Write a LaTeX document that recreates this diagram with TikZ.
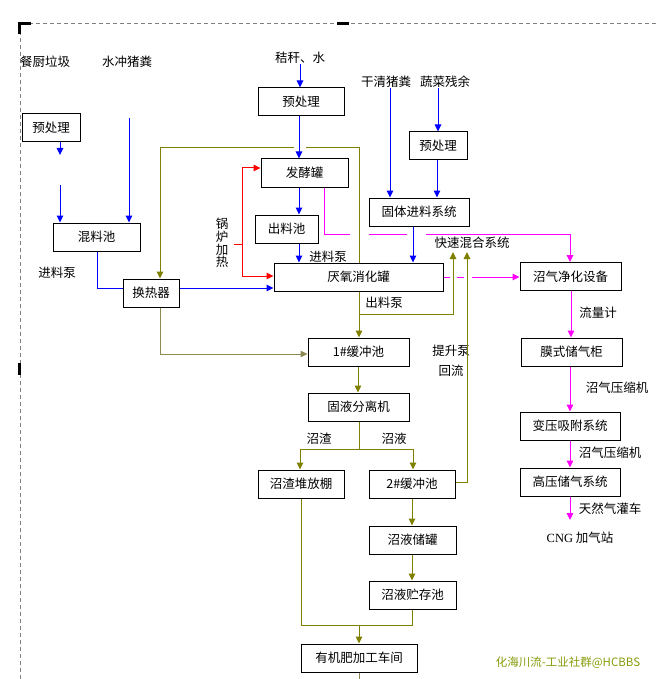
\documentclass[tikz,border=0pt]{standalone}
\usepackage{fontspec}
\setmainfont{Noto Sans CJK SC}
\newfontfamily\serifcng{Liberation Serif}
\usetikzlibrary{arrows.meta}
\definecolor{oliv}{RGB}{128,128,0}
\definecolor{oliv2}{RGB}{140,138,80}
\definecolor{mag}{RGB}{255,0,255}
\definecolor{wm}{RGB}{135,155,10}
\tikzset{
  box/.style={draw, line width=1pt, minimum height=28pt, inner sep=0pt, font=\fontsize{12.5}{12.5}\selectfont, fill=white},
  lbl/.style={inner sep=0pt, font=\fontsize{12.5}{12.5}\selectfont},
  arr/.style={-{Triangle[length=7pt,width=6.5pt]}},
  bl/.style={blue, line width=1pt},
  rd/.style={red, line width=1pt},
  mg/.style={mag, line width=1pt},
  ol/.style={oliv, line width=1pt},
  ol2/.style={oliv2, line width=1pt},
}
\begin{document}
\begin{tikzpicture}[x=1pt,y=-1pt]
\useasboundingbox (0,0) rectangle (657,679);
% frame
\draw[gray, dashed, dash pattern=on 4pt off 3pt, line width=0.7pt] (20,679) -- (20,23) -- (657,23);
\fill[black] (18,22) rectangle (31,25);
\fill[black] (18,22) rectangle (21,34);
\fill[black] (337,22) rectangle (349,25);
\fill[black] (18,363) rectangle (21,375);
% text labels
\node[lbl] (t1) at (45,62) {餐厨垃圾};
\node[lbl] (t2) at (127,62) {水冲猪粪};
\node[lbl] (t3) at (300,58) {秸秆、水};
\node[lbl] (t4) at (386,82) {干清猪粪};
\node[lbl] (t5) at (445,82) {蔬菜残余};
\node[lbl] (l1) at (57,273) {进料泵};
\node[lbl, align=center, font=\fontsize{12.5}{12.7}\selectfont] (l2) at (222,243) {锅\\炉\\加\\热};
\node[lbl] (l3) at (328,257) {进料泵};
\node[lbl] (l4) at (384,303) {出料泵};
\node[lbl] (l5) at (472,243) {快速混合系统};
\node[lbl] (l6) at (451,351) {提升泵};
\node[lbl] (l7) at (451,371) {回流};
\node[lbl] (l8) at (598,313) {流量计};
\node[lbl] (l9) at (617,388) {沼气压缩机};
\node[lbl] (l10) at (610,453) {沼气压缩机};
\node[lbl] (l11) at (610,509) {天然气灌车};
\node[lbl] (l12) at (580,538) {{\serifcng CNG} 加气站};
\node[lbl] (l13) at (319,439) {沼渣};
\node[lbl] (l14) at (394,439) {沼液};
\node[inner sep=0pt, font=\fontsize{11.5}{11.5}\selectfont, text=wm] (wmk) at (568,663) {化海川流-工业社群@HCBBS};
% boxes
\node[box, minimum width=58pt] (pre1) at (51,128) {预处理};
\node[box, minimum width=86pt] (pre2) at (301,102) {预处理};
\node[box, minimum width=87pt] (fj) at (304.5,173) {发酵罐};
\node[box, minimum width=63pt] (clc) at (286.5,229) {出料池};
\node[box, minimum width=58pt] (pre3) at (438,146) {预处理};
\node[box, minimum width=100pt] (gtjl) at (419,212) {固体进料系统};
\node[box, minimum width=87pt] (hlc) at (96.5,237) {混料池};
\node[box, minimum width=56pt] (hrq) at (151,293) {换热器};
\node[box, minimum width=169pt] (yyx) at (358.5,277) {厌氧消化罐};
\node[box, minimum width=101pt] (zqjh) at (570.5,276.5) {沼气净化设备};
\node[box, minimum width=101pt] (hc1) at (358.5,352) {1\#缓冲池};
\node[box, minimum width=101pt] (msc) at (571.5,352) {膜式储气柜};
\node[box, minimum width=101pt] (gyfl) at (358.5,407) {固液分离机};
\node[box, minimum width=100pt] (byxf) at (570,426) {变压吸附系统};
\node[box, minimum width=100pt] (gycq) at (570,482) {高压储气系统};
\node[box, minimum width=86pt] (zzdf) at (301,484) {沼渣堆放棚};
\node[box, minimum width=86pt] (hc2) at (412,484) {2\#缓冲池};
\node[box, minimum width=87pt] (zycg) at (412.5,540) {沼液储罐};
\node[box, minimum width=87pt] (zyzc) at (412.5,595) {沼液贮存池};
\node[box, minimum width=116pt] (yjf) at (359,658) {有机肥加工车间};
% coordinates
\coordinate (a1) at (60,155);
\coordinate (a2) at (60,185);
\coordinate (a3) at (129,118);
\coordinate (rj) at (242,244);
\coordinate (rt) at (234,244);
\coordinate (om) at (359,148);
\coordinate (og) at (294,148);
\coordinate (og2) at (306,148);
\coordinate (fm1) at (453,252);
\coordinate (fm2) at (467,252);
\coordinate (sp) at (359,449);
\coordinate (bj) at (359,625);
\coordinate (yend) at (359,679);
\coordinate (cng) at (570,520);
% blue
\draw[bl,arr] (t3.south) -- (t3.south |- pre2.north);
\draw[bl,arr] (pre2.south -| 299,0) -- (299,0 |- fj.north);
\draw[bl,arr] (fj.south -| 299,0) -- (299,0 |- clc.north);
\draw[bl,arr] (clc.south -| 299,0) -- (299,0 |- yyx.north);
\draw[bl,arr] (pre1.south -| a1) -- (a1);
\draw[bl,arr] (a2) -- (a2 |- hlc.north);
\draw[bl,arr] (a3) -- (a3 |- hlc.north);
\draw[bl] (hlc.south -| 97,0) |- (hrq.west |- 0,288);
\draw[bl,arr] (hrq.east |- 0,288) -- (yyx.west |- 0,288);
\draw[bl,arr] (t4.south -| 390,0) -- (390,0 |- gtjl.north);
\draw[bl,arr] (t5.south -| 438,0) -- (438,0 |- pre3.north);
\draw[bl,arr] (pre3.south -| 437,0) -- (437,0 |- gtjl.north);
\draw[bl,arr] (gtjl.south -| 413,0) -- (413,0 |- yyx.north);
% red
\draw[rd] (rt) -- (rj);
\draw[rd,arr] (rj) |- (fj.west |- 0,168);
\draw[rd,arr] (rj) |- (yyx.west |- 0,276);
% magenta
\draw[mg] (fj.south -| 324,0) |- (350,234);
\draw[mg] (369,234) -- (407,234);
\draw[mg,arr] (426,234) -| (zqjh.north -| 570,0);
\draw[mg] (yyx.east |- 0,277) -- (450,277);
\draw[mg] (457,277) -- (464,277);
\draw[mg,arr] (472,277) -- (zqjh.west |- 0,277);
\draw[mg,arr] (zqjh.south -| 571,0) -- (571,0 |- msc.north);
\draw[mg,arr] (msc.south -| 570,0) -- (570,0 |- byxf.north);
\draw[mg,arr] (byxf.south -| 570,0) -- (570,0 |- gycq.north);
\draw[mg,arr] (gycq.south -| cng) -- (cng);
% olive
\draw[ol,arr] (og) -| (hrq.north -| 160,0);
\draw[ol] (og2) -- (om) -- (om |- yyx.north);
\draw[ol,arr] (yyx.south -| om) -- (om |- hc1.north);
\draw[ol,arr] (359,314) -| (fm1);
\draw[ol,arr] (hc2.east |- 0,482) -| (fm2);
\draw[ol2,arr] (hrq.south -| 160,0) |- (hc1.west |- 0,354);
\draw[ol,arr] (hc1.south -| 358,0) -- (358,0 |- gyfl.north);
\draw[ol] (gyfl.south -| sp) -- (sp);
\draw[ol,arr] (sp) -| (zzdf.north -| 300,0);
\draw[ol,arr] (sp) -| (hc2.north -| 413,0);
\draw[ol,arr] (hc2.south -| 412,0) -- (412,0 |- zycg.north);
\draw[ol,arr] (zycg.south -| 412,0) -- (412,0 |- zyzc.north);
\draw[ol] (zzdf.south -| 301,0) |- (zyzc.south |- bj) -- (zyzc.south);
\draw[ol,arr] (bj) -- (yjf.north);
\draw[ol2] (yjf.south) -- (yend);
\end{tikzpicture}
\end{document}
